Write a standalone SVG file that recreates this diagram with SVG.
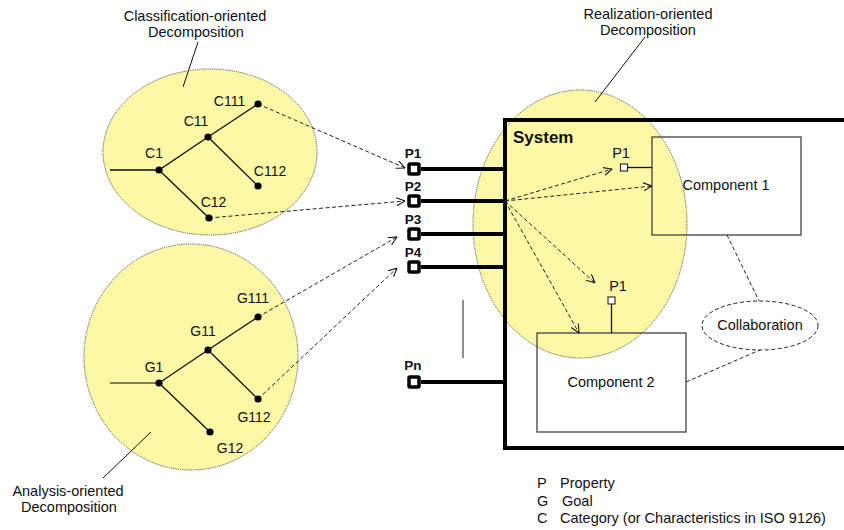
<svg xmlns="http://www.w3.org/2000/svg" width="844" height="530" viewBox="0 0 844 530">
<defs>
<style>
text{font-family:"Liberation Sans",Arial,sans-serif;font-size:14px;fill:#111}
.lbl{font-size:14.5px}
.mid{text-anchor:middle}
.bold{font-weight:bold}
.pl{font-weight:bold;font-size:13.5px;text-anchor:middle}
.blob{fill:#FCF8A6;stroke:#555;stroke-width:1;stroke-dasharray:1.2 1}
.tree{stroke:#111;stroke-width:1.3;fill:none}
.dot{fill:#000}
.thick{stroke:#000;stroke-width:4;fill:none}
.port{fill:#fff;stroke:#000;stroke-width:3.5}
.sport{fill:#fff;stroke:#222;stroke-width:1.1}
.comp{fill:none;stroke:#333;stroke-width:1.2}
.dash{stroke:#222;stroke-width:1;stroke-dasharray:4 2.5;fill:none}
.arr{marker-end:url(#arrow)}
.lead{stroke:#111;stroke-width:1;fill:none}
</style>
<marker id="arrow" viewBox="0 0 10 10" refX="9.5" refY="5" markerWidth="9" markerHeight="9" markerUnits="userSpaceOnUse" orient="auto">
<path d="M0,0.5 L9.5,5 L0,9.5" fill="none" stroke="#111" stroke-width="1.2"/>
</marker>
</defs>

<g id="classification-decomposition">
<ellipse class="blob" cx="210" cy="152" rx="107" ry="83"/>
<text class="lbl mid" x="195" y="21">Classification-oriented</text>
<text class="lbl mid" x="196" y="37">Decomposition</text>
</g>
<g id="analysis-decomposition">
<ellipse class="blob" cx="191" cy="357" rx="107" ry="113"/>
<text class="lbl mid" x="68" y="496">Analysis-oriented</text>
<text class="lbl mid" x="69" y="512">Decomposition</text>
</g>
<g id="realization-decomposition">
<ellipse class="blob" cx="580" cy="224" rx="107" ry="134"/>
<text class="lbl mid" x="648" y="19">Realization-oriented</text>
<text class="lbl mid" x="648" y="35">Decomposition</text>
</g>

<g id="system">
<path class="thick" d="M844,120 H505 V448 H844"/>
<text class="bold" x="513" y="143" style="font-size:17px">System</text>
</g>

<g id="component1">
<rect class="comp" x="652" y="137" width="149" height="98"/>
<text class="lbl mid" x="726" y="190">Component 1</text>
<line class="tree" x1="627" y1="167.5" x2="652" y2="167.5"/>
<rect class="sport" x="620.5" y="164" width="7" height="7"/>
<text class="lbl mid" x="621" y="158">P1</text>
</g>
<g id="component2">
<rect class="comp" x="537" y="333" width="149" height="99"/>
<text class="lbl mid" x="611" y="387">Component 2</text>
<line class="tree" x1="611.5" y1="304" x2="611.5" y2="333"/>
<rect class="sport" x="608" y="297" width="7" height="7"/>
<text class="lbl mid" x="618" y="291">P1</text>
</g>
<g id="collaboration">
<ellipse cx="760" cy="325.5" rx="58" ry="24.5" fill="none" stroke="#222" stroke-width="1" stroke-dasharray="4 2.5"/>
<text class="lbl mid" x="760" y="330">Collaboration</text>
</g>

<g id="connectors">
<line class="lead" x1="198" y1="42" x2="183" y2="87"/>
<line class="lead" x1="645" y1="37" x2="595" y2="102"/>
<line class="lead" x1="151" y1="432" x2="103" y2="478"/>
<line x1="463" y1="300" x2="463" y2="358" stroke="#444" stroke-width="1.2"/>
<line class="thick" x1="421" y1="169" x2="505" y2="169"/>
<line class="thick" x1="421" y1="201" x2="505" y2="201"/>
<line class="thick" x1="421" y1="234" x2="505" y2="234"/>
<line class="thick" x1="421" y1="267" x2="505" y2="267"/>
<line class="thick" x1="421" y1="382" x2="505" y2="382"/>
<line class="dash arr" x1="258" y1="104" x2="405" y2="168"/>
<line class="dash arr" x1="209" y1="218" x2="405" y2="201"/>
<line class="dash arr" x1="258" y1="317" x2="397" y2="237"/>
<line class="dash arr" x1="258" y1="399" x2="397" y2="268"/>
<line class="dash arr" x1="505" y1="201" x2="612" y2="169"/>
<line class="dash arr" x1="505" y1="201" x2="652" y2="186"/>
<line class="dash arr" x1="505" y1="201" x2="595" y2="283"/>
<line class="dash arr" x1="505" y1="201" x2="579" y2="333"/>
<line class="dash" x1="727" y1="235" x2="759" y2="301"/>
<line class="dash" x1="686" y1="382" x2="760" y2="350"/>
</g>

<g id="c-tree">
<path class="tree" d="M110,170 H159 L208,137 L258,104 M208,137 L258,186 M159,170 L209,218"/>
<circle class="dot" cx="159" cy="170" r="3.6"/>
<circle class="dot" cx="208" cy="137" r="3.6"/>
<circle class="dot" cx="258" cy="104" r="3.6"/>
<circle class="dot" cx="258" cy="186" r="3.6"/>
<circle class="dot" cx="209" cy="218" r="3.6"/>
<text class="mid" x="154" y="158">C1</text>
<text class="mid" x="196" y="126">C11</text>
<text class="mid" x="229.5" y="106">C111</text>
<text class="mid" x="270" y="176">C112</text>
<text class="mid" x="213.5" y="207">C12</text>
</g>

<g id="g-tree">
<path d="M110,383 H159" stroke="#555" stroke-width="1.6"/>
<path class="tree" d="M159,383 L208,350 L258,317 M208,350 L258,399 M159,383 L210,432"/>
<circle class="dot" cx="159" cy="383" r="3.6"/>
<circle class="dot" cx="208" cy="350" r="3.6"/>
<circle class="dot" cx="258" cy="317" r="3.6"/>
<circle class="dot" cx="258" cy="399" r="3.6"/>
<circle class="dot" cx="210" cy="432" r="3.6"/>
<text class="mid" x="154" y="372">G1</text>
<text class="mid" x="203" y="336">G11</text>
<text class="mid" x="253" y="303">G111</text>
<text class="mid" x="254" y="422">G112</text>
<text class="mid" x="230" y="453">G12</text>
</g>

<g id="ports">
<rect class="port" x="409" y="164" width="10" height="10" rx="1"/>
<rect class="port" x="409" y="196" width="10" height="10" rx="1"/>
<rect class="port" x="409" y="229" width="10" height="10" rx="1"/>
<rect class="port" x="409" y="262" width="10" height="10" rx="1"/>
<rect class="port" x="409" y="377" width="10" height="10" rx="1"/>
<text class="pl" x="413" y="158">P1</text>
<text class="pl" x="413" y="191">P2</text>
<text class="pl" x="413" y="224">P3</text>
<text class="pl" x="413" y="257">P4</text>
<text class="pl" x="413" y="370">Pn</text>
</g>

<g id="legend">
<text class="lbl" x="537" y="488">P</text>
<text class="lbl" x="560" y="488">Property</text>
<text class="lbl" x="537" y="506">G</text>
<text class="lbl" x="562" y="506">Goal</text>
<text class="lbl" x="537" y="523">C</text>
<text class="lbl" x="560" y="523">Category (or Characteristics in ISO 9126)</text>
</g>
</svg>
